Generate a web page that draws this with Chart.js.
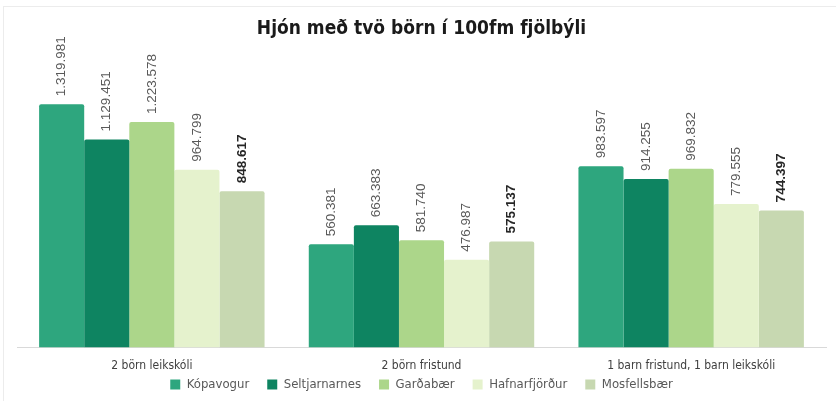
<!DOCTYPE html>
<html><head><meta charset="utf-8">
<script src="https://cdn.jsdelivr.net/npm/chart.js@4/dist/chart.umd.min.js"></script>
<style>
html,body{margin:0;padding:0;background:#fff;}
#frame{position:absolute;left:3px;top:6px;width:840px;height:400px;border-left:1px solid #ececec;border-top:1px solid #ececec;}
#wrap{position:absolute;left:0;top:0;width:836px;height:401px;}
</style></head>
<body>
<div id="frame"></div>
<div id="wrap"><canvas id="c" width="836" height="401"></canvas></div>
<script>
const categories = ["2 börn leikskóli", "2 börn fristund", "1 barn fristund, 1 barn leikskóli"];
const seriesNames = ["Kópavogur", "Seltjarnarnes", "Garðabær", "Hafnarfjörður", "Mosfellsbær"];
const kopavogur = [1319981, 560381, 983597];
const seltjarnarnes = [1129451, 663383, 914255];
const gardabaer = [1223578, 581740, 969832];
const hafnarfjordur = [964799, 476987, 779555];
const mosfellsbaer = [848617, 575137, 744397];
const colors = ["#2ea67e", "#0e8461", "#acd68a", "#e5f2cd", "#c7d8b1"];

const values = [kopavogur, seltjarnarnes, gardabaer, hafnarfjordur, mosfellsbaer];
function fmt(v){ return v.toString().replace(/\B(?=(\d{3})+(?!\d))/g, "."); }
const NARROW = "'DejaVu Sans Condensed', 'Liberation Sans', Arial, sans-serif";

const labelPlugin = {
  id: 'vlabels',
  afterLayout(chart){
    const lg = chart.legend;
    if (lg) { lg.top -= 24; lg.bottom -= 24; }
  },
  afterDatasetsDraw(chart){
    const ctx = chart.ctx;
    chart.data.datasets.forEach((ds, di) => {
      const meta = chart.getDatasetMeta(di);
      meta.data.forEach((bar, i) => {
        const bold = di === 4;
        ctx.save();
        ctx.translate(bar.x, bar.y - 8);
        ctx.rotate(-Math.PI/2);
        ctx.font = (bold ? "bold " : "") + "13.5px 'Liberation Sans', Arial, sans-serif";
        ctx.fillStyle = bold ? "#262626" : "#595959";
        ctx.textAlign = "left";
        ctx.textBaseline = "middle";
        ctx.fillText(fmt(ds.data[i]), 0, 0);
        ctx.restore();
      });
    });
  }
};

new Chart(document.getElementById('c'), {
  type: 'bar',
  data: {
    labels: categories,
    datasets: seriesNames.map((n, k) => ({
      label: n, data: values[k], backgroundColor: colors[k],
      borderRadius: {topLeft: 2, topRight: 2}, borderSkipped: 'bottom'
    }))
  },
  options: {
    responsive: false, animation: false,
    layout: { padding: { left: 17, right: 10, top: 0, bottom: -24 } },
    datasets: { bar: { categoryPercentage: 0.836, barPercentage: 1.0 } },
    plugins: {
      title: { display: true, text: "Hjón með tvö börn í 100fm fjölbýli",
        font: { family: NARROW, size: 19, weight: 'bold' },
        color: "#1a1a1a", padding: { top: 18, bottom: 22 } },
      legend: { position: 'bottom',
        labels: { boxWidth: 10, boxHeight: 10, padding: 18, color: "#595959",
          font: { family: NARROW, size: 13 } } },
      tooltip: { enabled: false }
    },
    scales: {
      x: { grid: { display: false, drawTicks: false }, border: { color: "#d9d9d9", width: 1 },
        ticks: { color: "#404040", padding: 11,
          font: { family: NARROW, size: 12 } } },
      y: { display: false, min: 0, max: 1545000 }
    }
  },
  plugins: [labelPlugin]
});
</script>
</body></html>
